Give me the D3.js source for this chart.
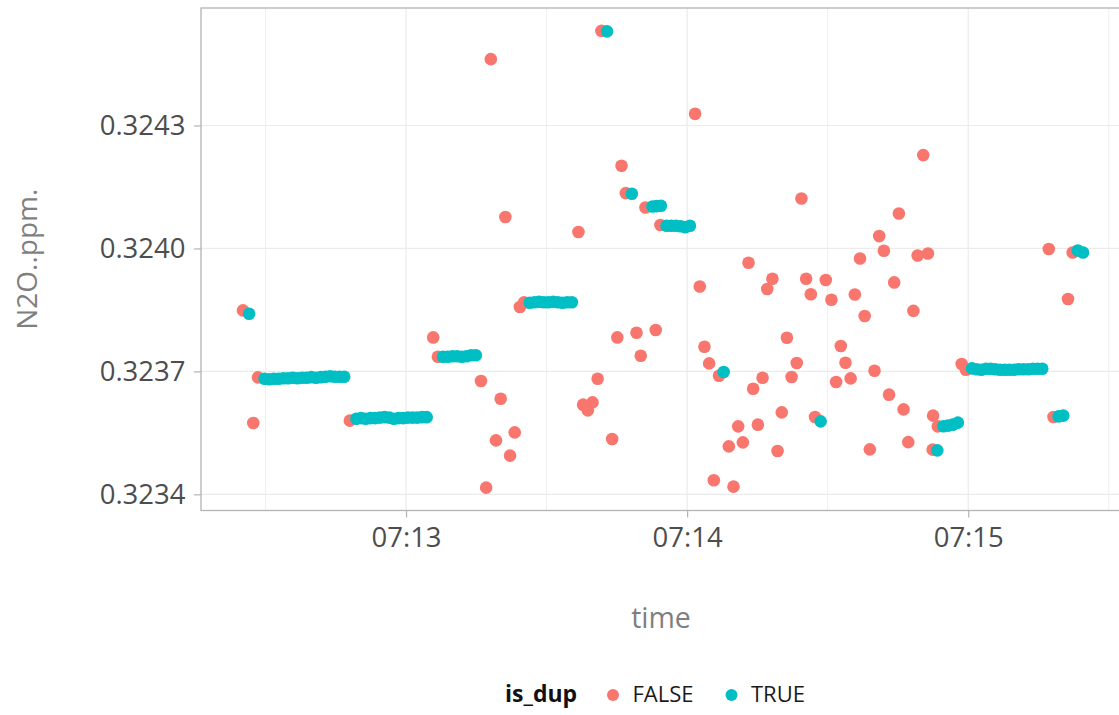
<!DOCTYPE html>
<html>
<head>
<meta charset="utf-8">
<title>N2O by time, duplicates flagged</title>
<style>
  body { margin: 0; background: #fff; }
  text { font-family: "Open Sans", sans-serif; }
</style>
<script src="https://d3js.org/d3.v7.min.js"></script>
</head>
<body>
<script>
// seconds after 07:12:00, one entry per reading
var secs = [
  25.2, 26.5, 27.4, 28.4,
  29.8, 30.8, 31.8, 32.8, 33.8, 34.8, 35.8, 36.8, 37.8, 38.8, 39.8, 40.8, 41.8, 42.8, 43.8, 44.8, 45.8, 46.8,
  48.0,
  49.4, 50.4, 51.4, 52.4, 53.4, 54.4, 55.4, 56.4, 57.4, 58.4, 59.4, 60.4, 61.4, 62.4, 63.4, 64.4,
  65.8, 66.8,
  67.9, 68.9, 69.9, 70.9, 71.9, 72.9, 73.9, 74.9,
  76.0, 77.1, 78.1, 79.2, 80.2, 81.2, 82.2, 83.2, 84.3, 85.2,
  86.4, 87.4, 88.4, 89.4, 90.4, 91.4, 92.4, 93.4, 94.4, 95.4,
  96.8, 97.8, 98.8, 99.8, 100.9, 101.7, 102.9, 104.0, 105.1, 106.0,
  106.9, 108.2, 109.2, 110.1, 111.1, 112.6, 113.3, 113.5, 114.3, 114.4,
  115.6, 116.6, 117.6, 118.6, 119.6, 120.6,
  121.7, 122.7, 123.7, 124.7, 125.7, 126.8, 127.8, 128.9, 129.9, 130.9,
  131.9, 133.1, 134.1, 135.1, 136.1, 137.1, 138.2, 139.3, 140.2, 141.3,
  142.3, 143.4, 144.4, 145.4, 146.4, 147.3, 148.5, 149.6, 150.8, 151.8,
  152.8, 153.8, 154.9, 155.8, 156.9, 157.9, 159.0, 160.0, 161.0, 162.0,
  163.1, 164.2, 165.2, 166.2, 167.2, 168.3, 169.2, 170.4, 171.4, 172.4,
  172.5, 173.4, 173.5,
  174.7, 175.7, 176.7, 177.8,
  178.6, 179.5,
  180.8, 181.8, 182.8, 183.8, 184.8, 185.8, 186.8, 187.8, 188.8, 189.8, 190.8, 191.8, 192.8, 193.8, 194.8, 195.8,
  197.2, 198.2, 199.3, 200.3, 201.3, 202.3, 203.4, 204.5
];

var n2o = [
  0.3238488, 0.3238407, 0.3235742, 0.3236854,
  0.3236822, 0.3236810, 0.3236822, 0.3236822, 0.3236834, 0.3236834, 0.3236846, 0.3236834, 0.3236846, 0.3236846, 0.3236859, 0.3236846, 0.3236859, 0.3236871, 0.3236883, 0.3236871, 0.3236871, 0.3236871,
  0.3235798,
  0.3235846, 0.3235859, 0.3235846, 0.3235859, 0.3235859, 0.3235871, 0.3235883, 0.3235871, 0.3235846, 0.3235859, 0.3235859, 0.3235871, 0.3235871, 0.3235871, 0.3235883, 0.3235883,
  0.3237829, 0.3237359,
  0.3237359, 0.3237359, 0.3237371, 0.3237371, 0.3237359, 0.3237371, 0.3237395, 0.3237395,
  0.3236766, 0.3234163, 0.3244619, 0.3235317, 0.3236334, 0.3240766, 0.3234944, 0.3235512, 0.3238571, 0.3238683,
  0.3238676, 0.3238688, 0.3238700, 0.3238688, 0.3238688, 0.3238700, 0.3238688, 0.3238676, 0.3238688, 0.3238688,
  0.3240400, 0.3236188, 0.3236049, 0.3236244, 0.3236822, 0.3245310, 0.3245298, 0.3235351, 0.3237829, 0.3242017,
  0.3241351, 0.3241334, 0.3237944, 0.3237383, 0.3241000, 0.3241024, 0.3238010, 0.3241034, 0.3240571, 0.3241041,
  0.3240554, 0.3240554, 0.3240554, 0.3240541, 0.3240517, 0.3240554,
  0.3243285, 0.3239073, 0.3237602, 0.3237195, 0.3234342, 0.3236895, 0.3236985, 0.3235171, 0.3234188, 0.3235659,
  0.3235268, 0.3239651, 0.3236578, 0.3235700, 0.3236846, 0.3239010, 0.3239261, 0.3235059, 0.3236000, 0.3237822,
  0.3236863, 0.3237205, 0.3241220, 0.3239261, 0.3238883, 0.3235888, 0.3235781, 0.3239229, 0.3238749, 0.3236742,
  0.3237620, 0.3237212, 0.3236829, 0.3238878, 0.3239756, 0.3238351, 0.3235098, 0.3237017, 0.3240302, 0.3239944,
  0.3236432, 0.3239171, 0.3240854, 0.3236073, 0.3235273, 0.3238476, 0.3239827, 0.3242278, 0.3239876, 0.3235090,
  0.3235920, 0.3235073, 0.3235659,
  0.3235663, 0.3235676, 0.3235700, 0.3235749,
  0.3237181, 0.3237041,
  0.3237073, 0.3237054, 0.3237041, 0.3237066, 0.3237066, 0.3237054, 0.3237041, 0.3237041, 0.3237041, 0.3237041, 0.3237054, 0.3237054, 0.3237054, 0.3237066, 0.3237066, 0.3237066,
  0.3239985, 0.3235888, 0.3235902, 0.3235920, 0.3238766, 0.3239902, 0.3239951, 0.3239902
];

// 1 = TRUE (duplicate), 0 = FALSE
var isDup = [
  0, 1, 0, 0,
  1, 1, 1, 1, 1, 1, 1, 1, 1, 1, 1, 1, 1, 1, 1, 1, 1, 1,
  0,
  1, 1, 1, 1, 1, 1, 1, 1, 1, 1, 1, 1, 1, 1, 1, 1,
  0, 0,
  1, 1, 1, 1, 1, 1, 1, 1,
  0, 0, 0, 0, 0, 0, 0, 0, 0, 0,
  1, 1, 1, 1, 1, 1, 1, 1, 1, 1,
  0, 0, 0, 0, 0, 0, 1, 0, 0, 0,
  0, 1, 0, 0, 0, 1, 0, 1, 0, 1,
  1, 1, 1, 1, 1, 1,
  0, 0, 0, 0, 0, 0, 1, 0, 0, 0,
  0, 0, 0, 0, 0, 0, 0, 0, 0, 0,
  0, 0, 0, 0, 0, 0, 1, 0, 0, 0,
  0, 0, 0, 0, 0, 0, 0, 0, 0, 0,
  0, 0, 0, 0, 0, 0, 0, 0, 0, 0,
  0, 1, 0,
  1, 1, 1, 1,
  0, 0,
  1, 1, 1, 1, 1, 1, 1, 1, 1, 1, 1, 1, 1, 1, 1, 1,
  0, 0, 1, 1, 0, 0, 1, 1
];

var yTicks = [0.3234, 0.3237, 0.3240, 0.3243];
var xTicks = ["07:13", "07:14", "07:15"];
var xMinor = ["07:12:30", "07:13:30", "07:14:30", "07:15:30"];
var groups = ["FALSE", "TRUE"];
var colours = ["#F8766D", "#00BFC4"];

var margin = { top: 8, left: 201 },
    width = 924,
    height = 502.5;

var parseHM = d3.utcParse("%H:%M"),
    parseHMS = d3.utcParse("%H:%M:%S");
var start = parseHM("07:12");

var data = secs.map(function (s, i) {
    return { time: new Date(+start + s * 1000), value: n2o[i], dup: isDup[i] };
});

// ggplot style 5% padding either side
function expand(ext) {
    var pad = (ext[1] - ext[0]) * 0.05;
    return [ext[0] - pad, ext[1] + pad];
}

var x = d3.scaleUtc()
    .domain(expand(d3.extent(data, d => +d.time)).map(d => new Date(d)))
    .range([0, width]);

var y = d3.scaleLinear()
    .domain(expand(d3.extent(data, d => d.value)))
    .range([height, 0]);

var colour = d3.scaleOrdinal().domain([0, 1]).range(colours);

var svg = d3.select("body")
    .append("svg")
    .attr("width", 1119)
    .attr("height", 715);

var plot = svg.append("g")
    .attr("transform", "translate(" + margin.left + "," + margin.top + ")");

// grid
var grid = plot.append("g").attr("id", "grid");
grid.selectAll(".minor-x")
    .data(xMinor.map(parseHMS))
    .enter().append("line")
    .attr("x1", d => x(d)).attr("x2", d => x(d))
    .attr("y1", 0).attr("y2", height)
    .attr("stroke", "#efefef").attr("stroke-width", 1);
grid.selectAll(".major-x")
    .data(xTicks.map(parseHM))
    .enter().append("line")
    .attr("x1", d => x(d)).attr("x2", d => x(d))
    .attr("y1", 0).attr("y2", height)
    .attr("stroke", "#ebebeb").attr("stroke-width", 1.2);
grid.selectAll(".major-y")
    .data(yTicks)
    .enter().append("line")
    .attr("x1", 0).attr("x2", width)
    .attr("y1", d => y(d)).attr("y2", d => y(d))
    .attr("stroke", "#ebebeb").attr("stroke-width", 1.2);

// points, drawn in reading order
plot.append("g").attr("id", "symbols")
    .selectAll("circle")
    .data(data)
    .enter().append("circle")
    .attr("cx", d => x(d.time))
    .attr("cy", d => y(d.value))
    .attr("r", 6.3)
    .attr("fill", d => colour(d.dup));

// panel border
plot.append("rect")
    .attr("width", width).attr("height", height)
    .attr("fill", "none")
    .attr("stroke", "#b3b3b3")
    .attr("stroke-width", 1.3);

// axes
var xAxis = plot.append("g")
    .attr("transform", "translate(0," + height + ")")
    .call(d3.axisBottom(x)
        .tickValues(xTicks.map(parseHM))
        .tickFormat(d3.utcFormat("%H:%M"))
        .tickSize(7)
        .tickPadding(9.5));

var yAxis = plot.append("g")
    .call(d3.axisLeft(y)
        .tickValues(yTicks)
        .tickFormat(d3.format(".4f"))
        .tickSize(7)
        .tickPadding(8.5));

[xAxis, yAxis].forEach(function (ax) {
    ax.select(".domain").remove();
    ax.selectAll(".tick line").attr("stroke", "#b3b3b3").attr("stroke-width", 1.2);
    ax.selectAll(".tick text")
        .attr("fill", "#4d4d4d")
        .style("font-size", "27.5px")
        .style("font-family", "'Open Sans', sans-serif");
});

// axis titles
svg.append("text")
    .attr("x", margin.left + width / 2 - 2)
    .attr("y", 628)
    .attr("text-anchor", "middle")
    .attr("fill", "#7f7f7f")
    .style("font-size", "28.5px")
    .text("time");

svg.append("text")
    .attr("transform", "translate(36.5," + (margin.top + height / 2) + ") rotate(-90)")
    .attr("text-anchor", "middle")
    .attr("fill", "#7f7f7f")
    .style("font-size", "28px")
    .text("N2O..ppm.");

// legend
var legend = svg.append("g").attr("id", "legend");
legend.append("text")
    .attr("x", 505).attr("y", 701.5)
    .attr("fill", "#111")
    .style("font-size", "23px")
    .style("font-weight", "bold")
    .text("is_dup");

var keyX = [613, 731.5];
groups.forEach(function (g, i) {
    legend.append("circle")
        .attr("cx", keyX[i]).attr("cy", 695)
        .attr("r", 6)
        .attr("fill", colours[i]);
    legend.append("text")
        .attr("x", keyX[i] + 19.5).attr("y", 701.5)
        .attr("fill", "#1a1a1a")
        .style("font-size", "22px")
        .text(g);
});
</script>
</body>
</html>
